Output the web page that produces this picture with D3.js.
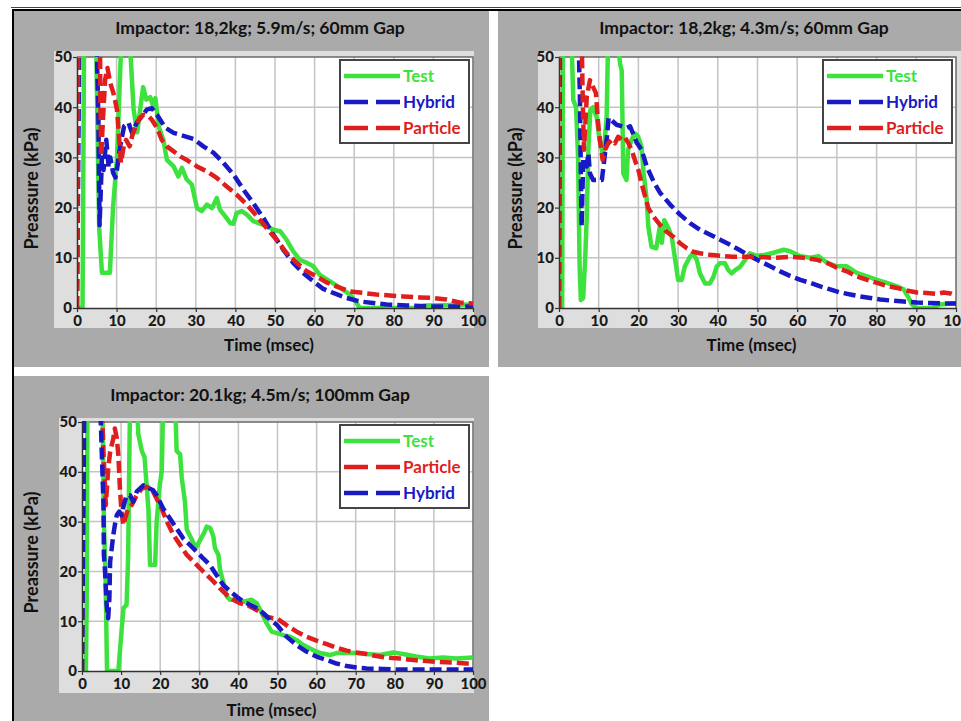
<!DOCTYPE html>
<html>
<head>
<meta charset="utf-8">
<script src="https://cdn.jsdelivr.net/npm/d3@7"></script>
<style>
  body { margin: 0; background: #fff; }
  svg { display: block; font-family: Lato, "Open Sans", sans-serif; }
</style>
</head>
<body>
<svg id="fig" width="961" height="721"></svg>
<script>
// --- data: [time (msec), pressure (kPa)] ---
// values above 50 stand for "off the top of the chart" and get clipped
const xTicks = [0, 10, 20, 30, 40, 50, 60, 70, 80, 90, 100];
const yTicks = [0, 10, 20, 30, 40, 50];

const titles = [
  "Impactor: 18,2kg; 5.9m/s; 60mm Gap",
  "Impactor: 18,2kg; 4.3m/s; 60mm Gap",
  "Impactor: 20.1kg; 4.5m/s; 100mm Gap"
];

const test1 = [[0,0],[1.4,0],[1.8,55],[4.8,55],[5.3,30],[5.6,16],[6.3,7],[8.3,7],[9.1,20],[10.1,30],[10.9,47],[11.3,55],[13.2,55],[14.3,39.5],[15.2,35],[16.7,44],[17.5,41.5],[18.5,42],[19.2,40.2],[19.8,41.8],[20.6,36.2],[21.8,33.5],[22.7,29.5],[24.4,28.2],[25.6,26.2],[26.5,27.9],[27.7,25.6],[29,24.6],[30.3,19.9],[31.5,19.3],[32.8,20.6],[34.1,19.9],[35.3,21.9],[36.1,19.6],[37.4,18.3],[38.7,16.9],[39.5,16.8],[40.3,18.9],[41.6,19.3],[42.9,18.6],[44.5,17.3],[46.2,16.8],[47.9,16.3],[49.6,15.6],[51.3,15.3],[52.9,13.6],[54.6,11.3],[56.3,9.6],[58,9],[59.7,8.3],[61.3,6.6],[63.9,5.3],[66.4,4],[68.9,2.7],[70.6,1],[71.4,0],[85,0],[88,0.5],[100,0.7]];
const hybrid1 = [[0,0],[0.6,55],[4.9,55],[5.4,38],[5.7,16.5],[6.3,30],[6.7,27.5],[7.4,33.5],[8,28],[8.4,30],[9.1,27],[9.7,26],[10.1,27.6],[10.9,32.2],[11.9,36.2],[13,36.9],[13.9,34.9],[15.1,36.9],[16.4,38.2],[17.6,39.5],[18.9,39.8],[20.2,38.5],[21,37.5],[22.3,35.9],[24.4,34.9],[26.9,34.3],[29.4,33.7],[31.9,32.2],[34.5,30.9],[37,28.9],[39.5,26.6],[42,23.6],[44.5,20.9],[47.1,17.9],[49.6,14.6],[52.1,11.6],[54.6,9],[57.1,7],[59.7,5.3],[62.2,3.8],[64.7,3],[68.1,2],[71.4,1.3],[74.8,1],[78.2,0.7],[83.2,0.5],[89.9,0.3],[100,0.3]];
const particle1 = [[0,0],[0.3,55],[5.8,55],[5.9,41.5],[6.1,30.2],[6.6,38.2],[7.1,45.5],[7.7,47.8],[8.4,44.8],[9.2,42.8],[10.1,39.5],[10.8,32.2],[11.1,28.9],[11.8,32.2],[12.4,33.5],[13.3,32.2],[13.9,34.2],[14.7,35.9],[15.8,37.8],[16.8,38.5],[18.1,38.2],[18.9,37.5],[20.2,35.9],[21.4,33.5],[22.7,32.2],[24.4,31.2],[26.1,30.2],[27.7,29.5],[30.3,28.2],[32.8,27.2],[35.3,25.9],[37.8,24.2],[40.3,22.6],[42.9,20.6],[45.4,18.3],[47.9,15.9],[50.4,13.6],[52.9,11],[55.5,9],[58,7.3],[60.5,6.3],[63,5.1],[65.5,4.3],[68.9,3.3],[72.3,3],[75.6,2.7],[79,2.5],[82.4,2.3],[86.6,2.1],[89.9,2],[93.3,1.7],[96.6,1.1],[100,0.9]];

const test2 = [[0,0],[0.8,0],[1,55],[3.1,55],[3.6,41.4],[4.3,40],[4.8,30],[5.2,8],[5.5,1.6],[6.1,2],[6.6,10],[7,18.3],[7.4,31.5],[7.9,39.5],[8.6,40],[9.5,38],[10.2,33.5],[11.2,30.1],[12,38.1],[12.4,55],[14.5,55],[15.4,48.6],[15.8,47.3],[16.2,26.8],[17,25.5],[17.4,31.5],[18.3,33.5],[19.1,34.8],[19.9,34.2],[20.8,32.1],[21.3,27],[22.1,21.5],[22.5,16.2],[23.3,12.2],[24.5,11.9],[25.4,16.2],[25.9,13],[26.5,17.5],[27.5,16],[28.4,14.2],[29.2,10],[30,5.6],[30.9,5.6],[31.7,8.3],[33,10.2],[33.8,10.9],[34.7,9.6],[35.5,6.9],[36.8,4.9],[38,4.9],[38.9,6.2],[39.7,8.2],[40.5,8.9],[41.8,8.9],[42.6,7.6],[43.5,6.9],[44.3,7.5],[45.6,8.2],[46.9,9.6],[48.1,10.9],[49.8,10.4],[52,10.6],[54,11],[56.6,11.6],[58.2,11.3],[60.8,10.3],[63.3,10],[65.4,10.3],[67.5,9],[70,8.3],[72.5,8.3],[75,7],[77.6,6.3],[80.1,5.6],[82.6,5],[85.1,4.3],[86.8,3.7],[88.1,2],[88.9,0.7],[90.2,0],[94,0],[96,0.7],[100,1]];
const hybrid2 = [[0,0],[0.25,55],[4.9,55],[5.3,40.6],[5.5,26.8],[5.7,16.2],[6.1,29.5],[7,28.2],[7.4,30.8],[7.8,26.8],[8.6,25.5],[10.8,25.5],[11.2,28.2],[12,33.5],[12.5,37.9],[14.5,36.5],[17.1,35.9],[17.9,36.2],[19.6,32.9],[20.8,31.5],[22.1,28.2],[23.8,25.2],[25.5,22.9],[28,20.6],[30.5,18.6],[33,16.9],[35.5,15.6],[38.1,14.6],[40.6,13.6],[43.1,12.6],[45.6,11.5],[48.2,10.3],[50.7,9.3],[53.2,8.3],[55.7,7.3],[58.2,6.4],[60.8,5.6],[63.3,5],[65.8,4.3],[68.3,3.7],[70.8,3.1],[73.4,2.7],[75.9,2.3],[78.4,2],[80.9,1.7],[83.4,1.5],[86.8,1.3],[90.2,1.1],[93.5,1],[96.9,0.9],[100,0.9]];
const particle2 = [[0,0],[0.05,55],[5.7,55],[6,40.6],[6.3,31.5],[7,42.1],[7.8,45.4],[8.6,44],[9.3,42.8],[9.8,37.2],[10.3,33.5],[11,29.5],[11.6,31.5],[12.4,32.8],[13.3,33.5],[14.1,32.8],[14.9,34.1],[15.8,33.5],[16.6,34],[17.5,32.8],[18.3,31.5],[19.1,29.5],[20,27.5],[20.8,24.8],[21.7,22.2],[22.5,19.9],[23.8,18.2],[25.4,16.6],[27.1,15.2],[28.8,14.2],[30.5,12.9],[32.2,11.9],[33.8,11.2],[35.5,10.9],[38,10.6],[40.5,10.4],[43.8,10.2],[47.2,10.2],[49.8,10.2],[54,10],[58.2,10.2],[61.6,10],[65,9.6],[67.5,9],[70,8],[72.5,7.3],[75,6.3],[77.6,5.6],[80.1,5],[82.6,4.4],[85.1,4],[87.6,3.5],[90.2,3.1],[92.7,3],[95.2,2.8],[96.9,3.1],[98.6,2.9],[100,2.5]];

const test3 = [[0,0],[1,0],[1.2,14],[1.4,55],[5.2,55],[5.6,30],[6,20],[6.4,0],[9.3,0],[9.8,5],[10.6,12.6],[11.4,13.3],[11.8,23],[12.3,55],[14,55],[14.4,47.6],[15.3,44.2],[16,42.9],[16.5,37.6],[17,32.3],[17.4,21.3],[18.7,21.3],[19.1,30],[19.9,37.4],[20.4,40.1],[20.8,55],[23.8,55],[24.2,44.2],[25.1,43.5],[25.5,38.9],[26.3,34.2],[26.8,28.4],[27.7,27],[28.5,25.7],[29.4,25],[30.2,26.3],[31.2,27.7],[31.9,29],[32.8,28.7],[33.6,27],[34,24.7],[34.9,23.3],[35.3,20.3],[36.2,17.6],[37,15],[37.9,14.3],[39.6,14.3],[41.3,13.9],[43.4,14.3],[44.7,13.6],[46,11.6],[47.2,9.6],[48.5,7.9],[49.8,7.6],[51.5,7.2],[53.2,6.9],[54.9,6.2],[56.6,5.2],[59.1,4.2],[60.9,3.6],[63.4,3.2],[65.1,3.6],[67.7,3.6],[70.2,3.6],[72.8,3.4],[76.2,3.2],[79.6,3.7],[82.1,3.4],[85.5,2.9],[88.9,2.5],[92.3,2.7],[95.7,2.5],[100,2.7]];
const particle3 = [[0,0],[0.4,55],[5,55],[5.5,43.9],[5.9,36.7],[6.1,33.3],[6.7,40.6],[7.2,44],[8,46.7],[8.4,48.7],[8.9,46.7],[9.3,43.3],[9.7,36.7],[10.1,32],[10.6,29.3],[11,30.6],[11.8,32.6],[12.7,33.3],[14,35.3],[15.3,36.6],[16.5,37],[17.8,36.6],[19.1,34.6],[20.4,32.6],[21.7,30],[23.4,27.3],[25.1,25.3],[26.8,23.3],[28.5,22],[30.2,20.6],[31.9,19.3],[33.6,18],[35.3,16.6],[37,15.3],[38.7,14.3],[40.4,13.6],[42.1,13.3],[43.8,12.6],[45.5,11.9],[47.2,10.9],[48.9,10.6],[49.8,10.6],[52.3,9.2],[54.9,7.9],[57.4,6.9],[60,6.1],[62.6,5.4],[65.1,4.7],[67.7,4.1],[70.2,3.7],[72.8,3.4],[75.3,3],[77.9,2.7],[81.3,2.5],[84.7,2.2],[88.1,2],[91.5,1.8],[94.9,1.7],[98.3,1.5],[100,1.5]];
const hybrid3 = [[0,0],[0.6,55],[4.6,55],[5,45.3],[5.5,33.3],[5.6,23.3],[5.9,19.9],[6.3,13.3],[6.7,10.6],[7,14.6],[7.2,22],[7.6,24.6],[8,27.3],[8.4,29.3],[8.9,31.3],[9.5,32],[10.1,31.3],[10.7,33.3],[11.4,35.3],[12.3,35.3],[13.1,34],[14,36],[14.8,36.6],[15.7,37.3],[16.5,37],[17.4,36.6],[18.2,36.3],[19.1,35.3],[19.9,34],[20.8,32.6],[22.5,30.6],[24.2,28.6],[25.9,26.6],[27.6,25.3],[29.3,24],[31,22.6],[32.7,21.3],[34.4,19.3],[36.1,17.3],[37.9,16],[39.6,14.9],[41.3,13.9],[43,13.3],[44.7,12.6],[46.4,11.6],[48.1,10.3],[49.8,9.3],[52.3,6.9],[54.9,5.2],[57.4,3.9],[60,2.9],[62.6,2.2],[65.1,1.5],[67.7,1],[70.2,0.7],[72.8,0.5],[77,0.4],[81.3,0.3],[100,0.3]];

// --- styles ---
const style = {
  Test:     { color: "#3ee23e", dash: null },
  Hybrid:   { color: "#1a1ac4", dash: "12,5" },
  Particle: { color: "#e01e1e", dash: "12,5" }
};

// panel layout (pixel boxes)
const panels = [
  { title: titles[0], bg: [14, 11, 475, 356], area: [54, 51, 420, 277], plot: [77, 57, 473, 308],
    titleY: 34, xlabY: 351, ylabX: 38,
    series: { Test: test1, Hybrid: hybrid1, Particle: particle1 },
    draw: ["Test", "Hybrid", "Particle"], legend: ["Test", "Hybrid", "Particle"] },
  { title: titles[1], bg: [498, 11, 463, 356], area: [538, 51, 423, 277], plot: [559, 57, 956, 308],
    titleY: 34, xlabY: 351, ylabX: 522,
    series: { Test: test2, Hybrid: hybrid2, Particle: particle2 },
    draw: ["Test", "Hybrid", "Particle"], legend: ["Test", "Hybrid", "Particle"] },
  { title: titles[2], bg: [14, 376, 475, 345], area: [59, 418, 415, 275], plot: [82, 422, 473, 671],
    titleY: 401, xlabY: 716, ylabX: 38,
    series: { Test: test3, Hybrid: hybrid3, Particle: particle3 },
    draw: ["Test", "Particle", "Hybrid"], legend: ["Test", "Particle", "Hybrid"] }
];

const svg = d3.select("#fig");

// table borders of the page
svg.append("line").attr("x1", 11).attr("x2", 961).attr("y1", 7.5).attr("y2", 7.5)
  .attr("stroke", "#444").attr("stroke-width", 1);
svg.append("rect").attr("x", 12).attr("y", 9).attr("width", 949).attr("height", 2).attr("fill", "#000");
svg.append("rect").attr("x", 12).attr("y", 9).attr("width", 2).attr("height", 712).attr("fill", "#000");

panels.forEach((p, i) => {
  const g = svg.append("g");
  const [px0, py0, px1, py1] = p.plot;

  g.append("rect").attr("x", p.bg[0]).attr("y", p.bg[1]).attr("width", p.bg[2]).attr("height", p.bg[3])
    .attr("fill", "#aaaaaa");
  g.append("rect").attr("x", p.area[0]).attr("y", p.area[1]).attr("width", p.area[2]).attr("height", p.area[3])
    .attr("fill", "#dedede");

  const x = d3.scaleLinear().domain([0, 100]).range([px0, px1]);
  const y = d3.scaleLinear().domain([0, 50]).range([py1, py0]);

  g.append("rect").attr("x", px0).attr("y", py0).attr("width", px1 - px0).attr("height", py1 - py0)
    .attr("fill", "#fff");

  // gridlines
  g.append("g").selectAll("line").data(xTicks.slice(1, -1)).join("line")
    .attr("x1", d => x(d)).attr("x2", d => x(d)).attr("y1", py0).attr("y2", py1)
    .attr("stroke", "#c4c4c4").attr("stroke-width", 1.5);
  g.append("g").selectAll("line").data(yTicks.slice(1, -1)).join("line")
    .attr("x1", px0).attr("x2", px1).attr("y1", d => y(d)).attr("y2", d => y(d))
    .attr("stroke", "#c4c4c4").attr("stroke-width", 1.5);

  // frame top/right
  g.append("path").attr("d", `M${px0},${py0}H${px1}V${py1}`)
    .attr("fill", "none").attr("stroke", "#6a6a6a").attr("stroke-width", 1.5);

  // series
  const clipId = "clip" + i;
  svg.append("clipPath").attr("id", clipId).append("rect")
    .attr("x", px0).attr("y", py0 - 1).attr("width", px1 - px0 + 1).attr("height", py1 - py0 + 1);
  const line = d3.line().x(d => x(d[0])).y(d => y(d[1]));
  const lines = g.append("g").attr("clip-path", `url(#${clipId})`);
  p.draw.forEach(name => {
    lines.append("path").datum(p.series[name]).attr("d", line)
      .attr("fill", "none").attr("stroke", style[name].color).attr("stroke-width", 4.5)
      .attr("stroke-linejoin", "round")
      .attr("stroke-dasharray", style[name].dash);
  });

  // axes
  const xAxis = g.append("g").attr("transform", `translate(0,${py1})`)
    .call(d3.axisBottom(x).tickValues(xTicks).tickSize(4).tickPadding(3).tickSizeOuter(0));
  const yAxis = g.append("g").attr("transform", `translate(${px0},0)`)
    .call(d3.axisLeft(y).tickValues(yTicks).tickSize(4).tickPadding(1).tickSizeOuter(0));
  [xAxis, yAxis].forEach(a => {
    a.select(".domain").attr("stroke", "#333").attr("stroke-width", 1.5);
    a.selectAll(".tick line").attr("stroke", "#333").attr("stroke-width", 1.2);
    a.selectAll(".tick text").attr("fill", "#1a1a1a")
      .style("font-family", "Lato, sans-serif").style("font-weight", "900").style("font-size", "15px");
  });

  // titles
  const cx = p.bg[0] + 246;
  g.append("text").attr("x", cx).attr("y", p.titleY).attr("text-anchor", "middle")
    .style("font-weight", "bold").style("font-size", "17.5px").attr("fill", "#111").text(p.title);
  g.append("text").attr("x", (px0 + px1) / 2 - 6).attr("y", p.xlabY).attr("text-anchor", "middle")
    .style("font-weight", "bold").style("font-size", "17px").attr("fill", "#111").text("Time (msec)");
  g.append("text").attr("transform", `translate(${p.ylabX},${(py0 + py1) / 2 + 6}) rotate(-90)`)
    .attr("text-anchor", "middle")
    .style("font-weight", "bold").style("font-size", "18px").attr("fill", "#111").text("Preassure (kPa)");

  // legend
  const lx = px1 - 133, ly = py0 + 3;
  const lg = g.append("g").attr("transform", `translate(${lx},${ly})`);
  lg.append("rect").attr("width", 129).attr("height", 83).attr("fill", "#fff")
    .attr("stroke", "#444").attr("stroke-width", 2);
  p.legend.forEach((name, k) => {
    const yy = 16 + k * 26;
    lg.append("line").attr("x1", 4).attr("x2", 60).attr("y1", yy).attr("y2", yy)
      .attr("stroke", style[name].color).attr("stroke-width", 4.5)
      .attr("stroke-dasharray", style[name].dash ? "24,8" : null);
    lg.append("text").attr("x", 63).attr("y", yy).attr("dy", "0.36em")
      .style("font-weight", "bold").style("font-size", "17px")
      .attr("fill", style[name].color).text(name);
  });
});
</script>
</body>
</html>
